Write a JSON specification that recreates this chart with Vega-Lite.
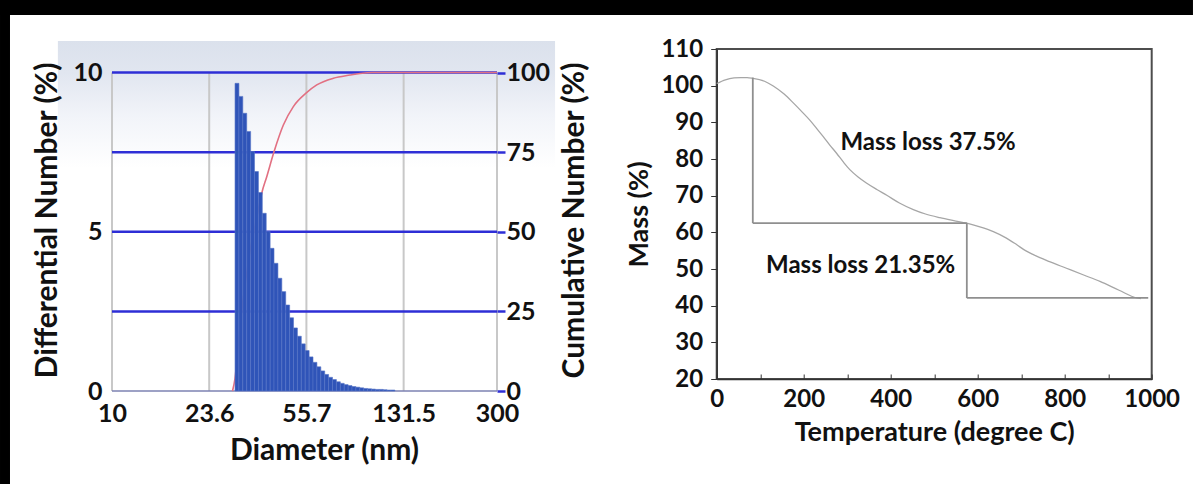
{
  "$schema": "https://vega.github.io/schema/vega-lite/v6.json",
  "background": "white",
  "padding": 0,
  "bounds": "flush",
  "spacing": 219.7,
  "data": {"values": [{"one": 1}]},
  "config": {
    "font": "Lato",
    "view": {"stroke": null},
    "axis": {
      "labelFont": "Lato", "titleFont": "Lato",
      "labelFontWeight": "bold", "titleFontWeight": "bold",
      "labelColor": "#111111", "titleColor": "#111111",
      "grid": false, "labelOverlap": false, "labelFlush": false, "labelBound": false
    }
  },
  "hconcat": [
    {
      "width": 385,
      "height": 342,
      "resolve": {"scale": {"y": "independent"}},
      "layer": [
        {
          "data": {"values": [{"x1": 6.2, "x2": 501, "y1": 10.99, "y2": 7.0}]},
          "mark": {"type": "rect", "fill": {"gradient": "linear", "x1": 0, "y1": 0, "x2": 0, "y2": 1,
            "stops": [{"offset": 0, "color": "#dbe1ec"}, {"offset": 0.25, "color": "#e1e6f0"}, {"offset": 0.6, "color": "#f2f4f9"}, {"offset": 1, "color": "#ffffff"}]}},
          "encoding": {
            "x": {"field": "x1", "type": "quantitative", "scale": {"type": "log", "domain": [10, 300], "nice": false},
              "axis": {"values": [10, 23.6, 55.7, 131.5, 300], "format": "~g", "labelFontSize": 25, "ticks": false, "domain": false,
                "labelOverlap": false, "labelPadding": 10, "title": "Diameter (nm)", "titleFontSize": 30, "titlePadding": 9, "titleX": 212}},
            "x2": {"field": "x2"},
            "y": {"field": "y1", "type": "quantitative", "scale": {"domain": [0, 10.738], "nice": false}, "axis": null},
            "y2": {"field": "y2"}
          }
        },
        {
          "data": {"values": [{"g": 10, "lo": 0, "hi": 10}, {"g": 23.6, "lo": 0, "hi": 10}, {"g": 55.7, "lo": 0, "hi": 10}, {"g": 131.5, "lo": 0, "hi": 10}, {"g": 300, "lo": 0, "hi": 10}]},
          "mark": {"type": "rule", "color": "#c8c8c8", "strokeWidth": 2},
          "encoding": {
            "x": {"field": "g", "type": "quantitative", "scale": {"type": "log", "domain": [10, 300], "nice": false}},
            "y": {"field": "lo", "type": "quantitative", "scale": {"domain": [0, 10.738], "nice": false}, "axis": null},
            "y2": {"field": "hi"}
          }
        },
        {
          "data": {"values": [{"h": 2.5}, {"h": 5}, {"h": 7.5}, {"h": 10}]},
          "mark": {"type": "rule", "color": "#2e2ed6", "strokeWidth": 2.5},
          "encoding": {
            "y": {"field": "h", "type": "quantitative", "scale": {"domain": [0, 10.738], "nice": false},
              "axis": {"orient": "left", "values": [0, 5, 10], "format": "d", "labelFontSize": 25, "ticks": false, "domain": false,
                "zindex": 1, "labelOverlap": false, "labelPadding": 10, "title": "Differential Number (%)", "titleFontSize": 30, "titlePadding": 10}}
          }
        },
        {
          "data": {"values": [{"h": 0}]},
          "mark": {"type": "rule", "color": "#7c82b2", "strokeWidth": 1.5},
          "encoding": {
            "y": {"field": "h", "type": "quantitative", "scale": {"domain": [0, 10.738], "nice": false}, "axis": null}
          }
        },
        {
          "data": {"values": [
            {"d": 29.0, "cum": 0}, {"d": 29.65, "cum": 4}, {"d": 30.69, "cum": 17}, {"d": 31.76, "cum": 28},
            {"d": 32.88, "cum": 37}, {"d": 34.03, "cum": 45}, {"d": 35.22, "cum": 51}, {"d": 36.46, "cum": 57},
            {"d": 37.54, "cum": 62.1}, {"d": 39.24, "cum": 67.3}, {"d": 41.84, "cum": 75.1}, {"d": 45.44, "cum": 83.5},
            {"d": 49.63, "cum": 89.3}, {"d": 55.5, "cum": 93.5}, {"d": 61.03, "cum": 96.1}, {"d": 70.68, "cum": 98.2},
            {"d": 81.9, "cum": 99.2}, {"d": 89.5, "cum": 99.7}, {"d": 100, "cum": 100}, {"d": 300, "cum": 100}
          ]},
          "mark": {"type": "line", "color": "#e27082", "strokeWidth": 1.6, "interpolate": "monotone"},
          "encoding": {
            "x": {"field": "d", "type": "quantitative", "scale": {"type": "log", "domain": [10, 300], "nice": false}},
            "y": {"field": "cum", "type": "quantitative", "scale": {"domain": [0, 107.38], "nice": false},
              "axis": {"orient": "right", "values": [0, 25, 50, 75, 100], "format": "d", "labelFontSize": 25,
                "zindex": 1, "labelOverlap": false,
                "tickColor": "#2e2ed6", "tickSize": 8, "tickWidth": 2.5, "domain": false, "labelPadding": 1,
                "title": "Cumulative Number (%)", "titleFontSize": 30, "titleAngle": 270, "titleBaseline": "top", "titlePadding": 10}}
          }
        },
        {
          "data": {"values": [
            {"d0": 29.65, "d1": 30.69, "p": 9.66, "z": 0}, {"d0": 30.69, "d1": 31.76, "p": 9.25, "z": 0}, {"d0": 31.76, "d1": 32.88, "p": 8.72, "z": 0},
            {"d0": 32.88, "d1": 34.03, "p": 8.15, "z": 0}, {"d0": 34.03, "d1": 35.22, "p": 7.52, "z": 0}, {"d0": 35.22, "d1": 36.46, "p": 6.89, "z": 0},
            {"d0": 36.46, "d1": 37.73, "p": 6.23, "z": 0}, {"d0": 37.73, "d1": 39.06, "p": 5.58, "z": 0}, {"d0": 39.06, "d1": 40.43, "p": 5.01, "z": 0},
            {"d0": 40.43, "d1": 41.84, "p": 4.48, "z": 0}, {"d0": 41.84, "d1": 43.31, "p": 4.01, "z": 0}, {"d0": 43.31, "d1": 44.83, "p": 3.54, "z": 0},
            {"d0": 44.83, "d1": 46.40, "p": 3.12, "z": 0}, {"d0": 46.40, "d1": 48.03, "p": 2.70, "z": 0}, {"d0": 48.03, "d1": 49.71, "p": 2.30, "z": 0},
            {"d0": 49.71, "d1": 51.45, "p": 1.98, "z": 0}, {"d0": 51.45, "d1": 53.25, "p": 1.72, "z": 0}, {"d0": 53.25, "d1": 55.12, "p": 1.48, "z": 0},
            {"d0": 55.12, "d1": 57.05, "p": 1.27, "z": 0}, {"d0": 57.05, "d1": 59.05, "p": 1.07, "z": 0}, {"d0": 59.05, "d1": 61.12, "p": 0.90, "z": 0},
            {"d0": 61.12, "d1": 63.27, "p": 0.76, "z": 0}, {"d0": 63.27, "d1": 65.48, "p": 0.63, "z": 0}, {"d0": 65.48, "d1": 67.78, "p": 0.52, "z": 0},
            {"d0": 67.78, "d1": 70.15, "p": 0.43, "z": 0}, {"d0": 70.15, "d1": 72.61, "p": 0.36, "z": 0}, {"d0": 72.61, "d1": 75.16, "p": 0.29, "z": 0},
            {"d0": 75.16, "d1": 77.79, "p": 0.24, "z": 0}, {"d0": 77.79, "d1": 80.52, "p": 0.20, "z": 0}, {"d0": 80.52, "d1": 83.34, "p": 0.17, "z": 0},
            {"d0": 83.34, "d1": 86.26, "p": 0.14, "z": 0}, {"d0": 86.26, "d1": 89.28, "p": 0.12, "z": 0}, {"d0": 89.28, "d1": 92.41, "p": 0.10, "z": 0},
            {"d0": 92.41, "d1": 95.65, "p": 0.08, "z": 0}, {"d0": 95.65, "d1": 99.01, "p": 0.07, "z": 0}, {"d0": 99.01, "d1": 102.48, "p": 0.06, "z": 0},
            {"d0": 102.48, "d1": 106.07, "p": 0.05, "z": 0}, {"d0": 106.07, "d1": 109.78, "p": 0.05, "z": 0}, {"d0": 109.78, "d1": 113.63, "p": 0.04, "z": 0},
            {"d0": 113.63, "d1": 117.61, "p": 0.03, "z": 0}, {"d0": 117.61, "d1": 121.74, "p": 0.03, "z": 0}
          ]},
          "mark": {"type": "rect", "fill": "#2f54b8", "stroke": "#5574c6", "strokeWidth": 0.6},
          "encoding": {
            "x": {"field": "d0", "type": "quantitative", "scale": {"type": "log", "domain": [10, 300], "nice": false}},
            "x2": {"field": "d1"},
            "y": {"field": "z", "type": "quantitative", "scale": {"domain": [0, 10.738], "nice": false}, "axis": null},
            "y2": {"field": "p"}
          }
        },
        {
          "data": {"values": [{"xa": 3.718, "xb": 140400, "ya": 12.276, "yb": 11.805}, {"xa": 3.718, "xb": 4.061, "ya": 12.276, "yb": -2.92}]},
          "mark": {"type": "rect", "fill": "#000000"},
          "encoding": {
            "x": {"field": "xa", "type": "quantitative", "scale": {"type": "log", "domain": [10, 300], "nice": false}},
            "x2": {"field": "xb"},
            "y": {"field": "ya", "type": "quantitative", "scale": {"domain": [0, 10.738], "nice": false}, "axis": null},
            "y2": {"field": "yb"}
          }
        }
      ]
    },
    {
      "width": 435,
      "height": 330,
      "view": {"stroke": "#4d4d4d", "strokeWidth": 2},
      "layer": [
        {
          "data": {"values": [
            {"T": 0, "M": 100.6}, {"T": 20, "M": 101.6}, {"T": 40, "M": 102.1}, {"T": 55, "M": 102.2}, {"T": 70, "M": 102.2},
            {"T": 83, "M": 102.0}, {"T": 110, "M": 101.2}, {"T": 130, "M": 99.9}, {"T": 155, "M": 97.7}, {"T": 176, "M": 95.3},
            {"T": 195, "M": 93.0}, {"T": 214, "M": 90.6}, {"T": 230, "M": 88.3}, {"T": 245, "M": 86.1}, {"T": 260, "M": 83.8},
            {"T": 276, "M": 81.5}, {"T": 291, "M": 79.2}, {"T": 306, "M": 77.1}, {"T": 325, "M": 75.1}, {"T": 345, "M": 73.4},
            {"T": 368, "M": 71.7}, {"T": 391, "M": 70.1}, {"T": 420, "M": 68.0}, {"T": 452, "M": 66.2}, {"T": 480, "M": 65.0},
            {"T": 513, "M": 64.0}, {"T": 545, "M": 63.2}, {"T": 575, "M": 62.5}, {"T": 605, "M": 61.5}, {"T": 636, "M": 60.2},
            {"T": 665, "M": 58.5}, {"T": 690, "M": 56.6}, {"T": 710, "M": 55.0}, {"T": 728, "M": 53.9}, {"T": 765, "M": 52.0},
            {"T": 804, "M": 50.2}, {"T": 845, "M": 48.3}, {"T": 881, "M": 46.6}, {"T": 925, "M": 44.2}, {"T": 965, "M": 42.1},
            {"T": 975, "M": 41.9}
          ]},
          "mark": {"type": "line", "color": "#a6a6a6", "strokeWidth": 1.3, "interpolate": "monotone"},
          "encoding": {
            "x": {"field": "T", "type": "quantitative", "scale": {"domain": [0, 1000], "nice": false},
              "axis": {"values": [0, 100, 200, 300, 400, 500, 600, 700, 800, 900, 1000],
                "labelExpr": "datum.value % 200 === 0 ? datum.label : ''", "format": "d", "labelOverlap": false,
                "labelFontSize": 24,
                "tickSize": -5, "tickColor": "#333333", "domainColor": "#333333", "domainWidth": 1.5,
                "labelPadding": 13, "title": "Temperature (degree C)", "titleFontSize": 27, "titlePadding": 8}},
            "y": {"field": "M", "type": "quantitative", "scale": {"domain": [20, 110], "nice": false, "zero": false},
              "axis": {"values": [20, 30, 40, 50, 60, 70, 80, 90, 100, 110], "format": "d",
                "labelOverlap": false, "labelSeparation": -30, "labelFontSize": 24, "tickSize": 6,
                "tickColor": "#333333", "domainColor": "#333333", "domainWidth": 1.5,
                "labelPadding": 8, "title": "Mass (%)", "titleFontSize": 27, "titlePadding": 7}}
          }
        },
        {
          "data": {"values": [
            {"T1": 83, "M1": 102.2, "T2": 83, "M2": 62.5},
            {"T1": 83, "M1": 62.5, "T2": 575, "M2": 62.5},
            {"T1": 575, "M1": 62.5, "T2": 575, "M2": 42.1},
            {"T1": 575, "M1": 42.1, "T2": 992, "M2": 42.1}
          ]},
          "mark": {"type": "rule", "color": "#8f8f8f", "strokeWidth": 1.8},
          "encoding": {
            "x": {"field": "T1", "type": "quantitative"},
            "x2": {"field": "T2"},
            "y": {"field": "M1", "type": "quantitative",
              "axis": {"values": [20, 30, 40, 50, 60, 70, 80, 90, 100, 110], "format": "d",
                "labelOverlap": false, "labelSeparation": -30, "labelFontSize": 24, "tickSize": 6,
                "tickColor": "#333333", "domainColor": "#333333", "domainWidth": 1.5,
                "labelPadding": 8, "title": "Mass (%)", "titleFontSize": 27, "titlePadding": 7}},
            "y2": {"field": "M2"}
          }
        },
        {
          "data": {"values": [
            {"T": 486, "M": 84.3, "label": "Mass loss 37.5%"},
            {"T": 331, "M": 50.7, "label": "Mass loss 21.35%"}
          ]},
          "mark": {"type": "text", "font": "Lato", "fontWeight": "bold", "fontSize": 24, "color": "#111111", "align": "center", "baseline": "middle"},
          "encoding": {
            "x": {"field": "T", "type": "quantitative"},
            "y": {"field": "M", "type": "quantitative",
              "axis": {"values": [20, 30, 40, 50, 60, 70, 80, 90, 100, 110], "format": "d",
                "labelOverlap": false, "labelSeparation": -30, "labelFontSize": 24, "tickSize": 6,
                "tickColor": "#333333", "domainColor": "#333333", "domainWidth": 1.5,
                "labelPadding": 8, "title": "Mass (%)", "titleFontSize": 27, "titlePadding": 7}},
            "text": {"field": "label"}
          }
        }
      ]
    }
  ]
}
